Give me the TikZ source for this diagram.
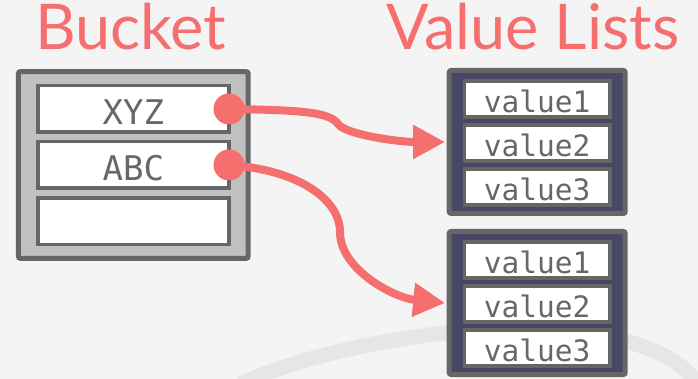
\documentclass[tikz,border=0pt]{standalone}
\usepackage{fontspec}
\setmainfont{Lato}
\newfontfamily\monofont{DejaVu Sans Mono}
\usetikzlibrary{arrows.meta}

\definecolor{saumon}{HTML}{F66F6F}
\definecolor{fond}{HTML}{F4F4F4}
\definecolor{arc}{HTML}{E6E6E6}
\definecolor{bordgris}{HTML}{666666}
\definecolor{gristexte}{HTML}{676767}
\definecolor{remplibucket}{HTML}{C0C0C0}
\definecolor{marine}{HTML}{464866}

\begin{document}
\begin{tikzpicture}[x=1pt, y=-1pt]
	\tikzset{bucket/.style={draw=bordgris, line width=5pt, fill=remplibucket, rounded corners=2pt, minimum width=229.7pt, minimum height=186.7pt, inner sep=0pt},
	case/.style={draw=bordgris, line width=3.5pt, fill=white, minimum width=191pt, minimum height=46.5pt, inner sep=0pt, text=gristexte, font=\monofont\fontsize{34}{34}\selectfont, text height=32pt, text depth=0pt},
	liste/.style={draw=bordgris, line width=5pt, fill=marine, rounded corners=2pt, minimum width=176pt, minimum height=143pt, inner sep=0pt},
	valeur/.style={draw=bordgris, line width=3.5pt, fill=white, minimum width=145.5pt, minimum height=36pt, inner sep=0pt, text=gristexte, font=\monofont\fontsize{29.5}{29.5}\selectfont, text height=27.6pt, text depth=0pt},
	titre/.style={anchor=base west, inner sep=0pt, text=saumon, font=\fontsize{63}{63}\selectfont},
	pastille/.style={circle, fill=saumon, minimum size=31pt, inner sep=0pt},
	lien/.style={draw=saumon, line width=8pt, -{Triangle[length=32pt, width=32pt]}}};

	\useasboundingbox (0,0) rectangle (698,379);
	\fill[fond] (0,0) rectangle (698,379);
	\begin{scope}
		\clip (0,0) rectangle (698,379);
		\draw[arc, line width=15pt] (240,384) .. controls (380,322) and (650,298) .. (702,390);
	\end{scope}

	\node[titre] (t-bucket) at (35,50) {Bucket};
	\node[titre] (t-listes) at (386,50) {Value Lists};

	\node[bucket] (bucket) at (133.3,165) {};
	\foreach \name/\y/\cle in {xyz/109/XYZ, abc/165/ABC, vide/221.3/}{
		\node[case] (\name) at (133.3,\y) {\cle};
	}

	\foreach \liste/\y in {l1/142, l2/303}{
		\node[liste] (\liste) at (537.2,\y) {};
		\foreach \k/\dy in {1/-43, 2/1, 3/45}
			\node[valeur] (\liste-v\k) at (537.2,\y+\dy) {value\k};
	}

	\node[pastille] (p-xyz) at (229,109) {};
	\node[pastille] (p-abc) at (229,165) {};

	\draw[lien] (p-xyz.center) .. controls (300,110) and (330,112) .. (338,124) .. controls (346,135) and (400,142) .. ([xshift=-1.5pt]l1.west);
	\draw[lien] (p-abc.center) .. controls (300,170) and (340,200) .. (340,232) .. controls (340,270) and (395,298) .. ([xshift=-1.5pt]l2.west);

\end{tikzpicture}
\end{document}
